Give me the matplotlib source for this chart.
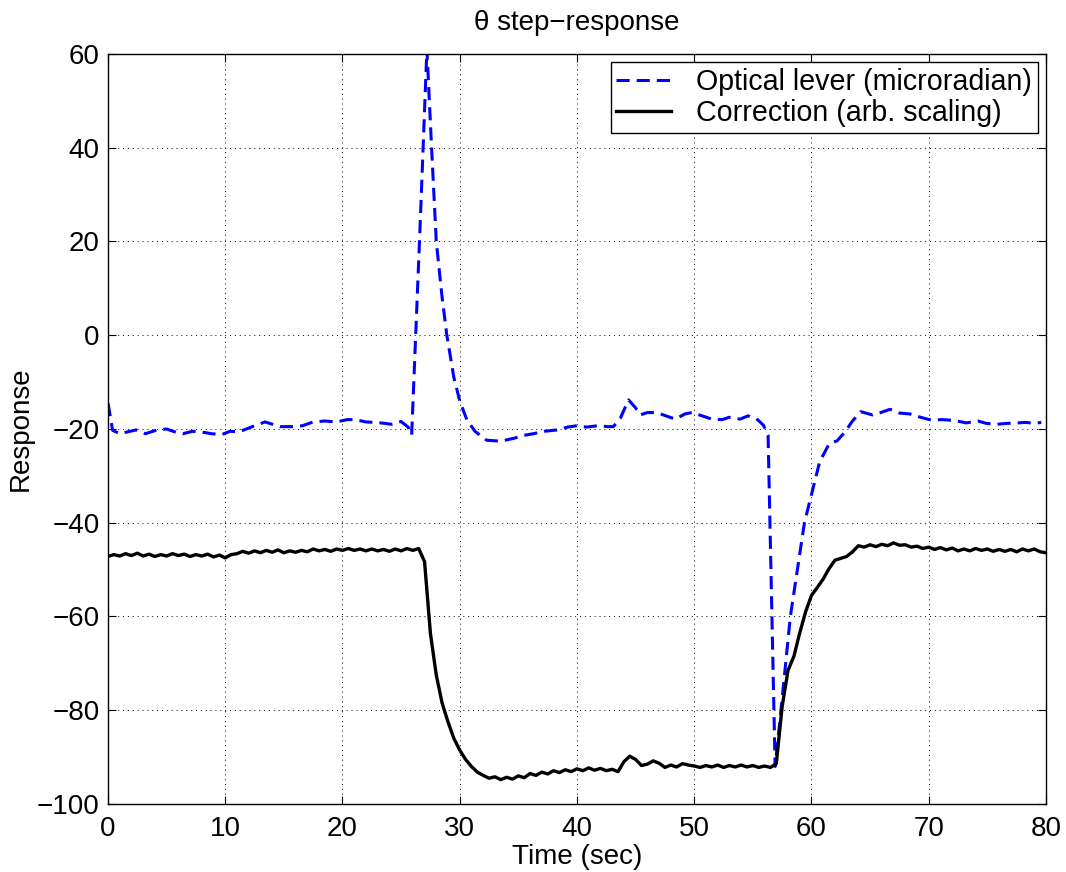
import numpy as np
import matplotlib
matplotlib.use("Agg")
import matplotlib.pyplot as plt

plt.rcParams['font.family'] = ['Liberation Sans', 'DejaVu Sans']

# Optical lever (microradian)
lever_t = [0.0, 0.4, 1.0, 2.4, 3.2, 4.2, 5.0, 5.8, 6.4, 7.2,
           7.9, 8.8, 9.7, 10.4, 11.2, 12.3, 13.4, 14.7, 15.8, 16.6,
           17.5, 18.5, 19.5, 20.4, 21.1, 22.0, 22.8, 23.6, 24.2, 25.0,
           25.6, 25.9, 26.6, 27.2, 27.6, 28.0, 28.5, 28.9, 29.5, 30.0,
           30.6, 31.3, 32.3, 33.5, 34.6, 35.4, 36.3, 37.2, 38.3, 39.2,
           40.0, 40.8, 41.8, 42.6, 43.1, 43.7, 44.4, 45.0, 45.4, 46.0,
           46.8, 47.7, 48.4, 49.2, 49.8, 50.8, 51.5, 52.4, 53.0, 53.9,
           54.6, 55.4, 55.9, 56.3, 56.9, 57.4, 58.2, 59.4, 60.0, 60.7,
           61.5, 62.2, 62.9, 63.5, 64.2, 65.2, 65.9, 66.7, 67.5, 68.4,
           69.3, 70.2, 71.2, 72.2, 73.2, 74.2, 74.9, 75.8, 76.7, 77.6,
           78.3, 79.0, 79.6]
lever_v = [-14.5, -20.3, -21.0, -20.2, -21.0, -20.2, -20.0, -20.7, -21.0, -20.5,
           -20.6, -21.0, -21.2, -20.5, -20.6, -19.5, -18.5, -19.5, -19.5, -19.3,
           -18.5, -18.3, -18.5, -18.0, -18.0, -18.5, -18.6, -18.8, -19.0, -18.4,
           -19.6, -21.3, 22.0, 61.0, 40.0, 20.0, 8.0, 0.0, -9.0, -14.0,
           -18.0, -20.5, -22.4, -22.6, -22.0, -21.4, -21.0, -20.5, -20.2, -19.6,
           -19.3, -19.6, -19.3, -19.5, -19.5, -17.7, -13.8, -15.5, -17.0, -16.5,
           -16.5, -17.3, -17.9, -16.8, -16.5, -17.3, -17.9, -18.0, -17.5, -17.9,
           -17.2, -18.0, -19.2, -21.3, -92.0, -80.0, -60.0, -40.0, -34.0, -27.0,
           -23.2, -22.5, -20.5, -18.3, -16.3, -17.0, -16.5, -15.8, -16.6, -16.8,
           -17.5, -18.1, -18.0, -18.2, -18.7, -18.3, -18.8, -19.0, -18.8, -18.7,
           -18.6, -18.8, -18.6]

# Correction (arb. scaling), sampled every 0.5 s
corr_t = np.arange(0, 80.01, 0.5)
corr_v = [
    -47.2, -46.8, -47.1, -46.6, -47.0, -46.5, -47.1, -46.7, -47.2, -46.8,
    -47.1, -46.6, -47.0, -46.7, -47.2, -46.8, -47.1, -46.7, -47.3, -46.9,
    -47.5, -46.8, -46.6, -46.1, -46.5, -46.0, -46.4, -45.9, -46.3, -45.8,
    -46.4, -46.0, -46.3, -45.9, -46.2, -45.6, -46.0, -45.7, -46.1, -45.6,
    -45.9, -45.5, -45.9, -45.6, -46.0, -45.6, -46.0, -45.7, -46.1, -45.6,
    -46.0, -45.5, -45.9, -45.5, -48.3, -63.6, -72.5, -78.5, -82.5, -86.0,
    -88.5, -90.5, -92.0, -93.2, -93.9, -94.5, -94.2, -94.8, -94.3, -94.7,
    -94.0, -94.4, -93.5, -93.9, -93.2, -93.6, -92.9, -93.3, -92.7, -93.1,
    -92.5, -92.9, -92.3, -92.8, -92.4, -92.9, -92.6, -93.1, -91.0, -89.8,
    -90.5, -91.8, -91.5, -90.8, -91.3, -92.2, -91.7, -92.1, -91.4, -91.7,
    -91.9, -92.2, -91.8, -92.1, -91.7, -92.2, -91.8, -92.1, -91.7, -92.1,
    -91.8, -92.2, -91.9, -92.2, -91.4, -79.2, -71.5, -68.5, -63.5, -59.0,
    -55.5, -53.8, -52.0, -49.8, -48.0, -47.6, -47.2, -46.2, -44.9, -45.2,
    -44.7, -45.1, -44.6, -44.9, -44.3, -44.8, -44.7, -45.2, -45.0, -45.5,
    -45.2, -45.7, -45.3, -45.8, -45.4, -46.0, -45.6, -46.0, -45.5, -45.9,
    -45.6, -46.1, -45.7, -46.1, -45.7, -46.2, -45.6, -46.0, -45.6, -46.2,
    -46.4]

x_ticks = [0, 10, 20, 30, 40, 50, 60, 70, 80]
y_ticks = [-100, -80, -60, -40, -20, 0, 20, 40, 60]

fig = plt.figure(figsize=(10.66, 8.72), dpi=100)
ax = fig.add_axes([0.1013, 0.078, 0.8799, 0.8601])

ax.plot(lever_t, lever_v, color='#0000ff', lw=2.2, dashes=(4.3, 2.3),
        label='Optical lever (microradian)')
ax.plot(corr_t, corr_v, color='black', lw=2.4,
        label='Correction (arb. scaling)')

ax.set_xlim(0, 80)
ax.set_ylim(-100, 60)
ax.set_xticks(x_ticks)
ax.set_yticks(y_ticks)
ax.grid(True, color='black', linestyle=(0, (1, 4)), linewidth=0.7)
ax.tick_params(direction='in', top=True, right=True, length=6, width=0.8,
               labelsize=20)
ax.tick_params(axis='x', pad=9)
ax.tick_params(axis='y', pad=6)
for s in ax.spines.values():
    s.set_linewidth(1.0)

ax.set_xlabel('Time (sec)', fontsize=20, labelpad=1)
ax.set_ylabel('Response', fontsize=20, labelpad=2)
ax.set_title('θ step−response', fontsize=20, pad=17)

leg = ax.legend(loc='upper right', fontsize=20.6, frameon=True, fancybox=False,
                edgecolor='black', framealpha=1, borderpad=0.2,
                labelspacing=0.12, handlelength=1.9, handletextpad=0.9,
                borderaxespad=0.28)
leg.get_frame().set_linewidth(1.0)

fig.savefig('out.png', dpi=100)
